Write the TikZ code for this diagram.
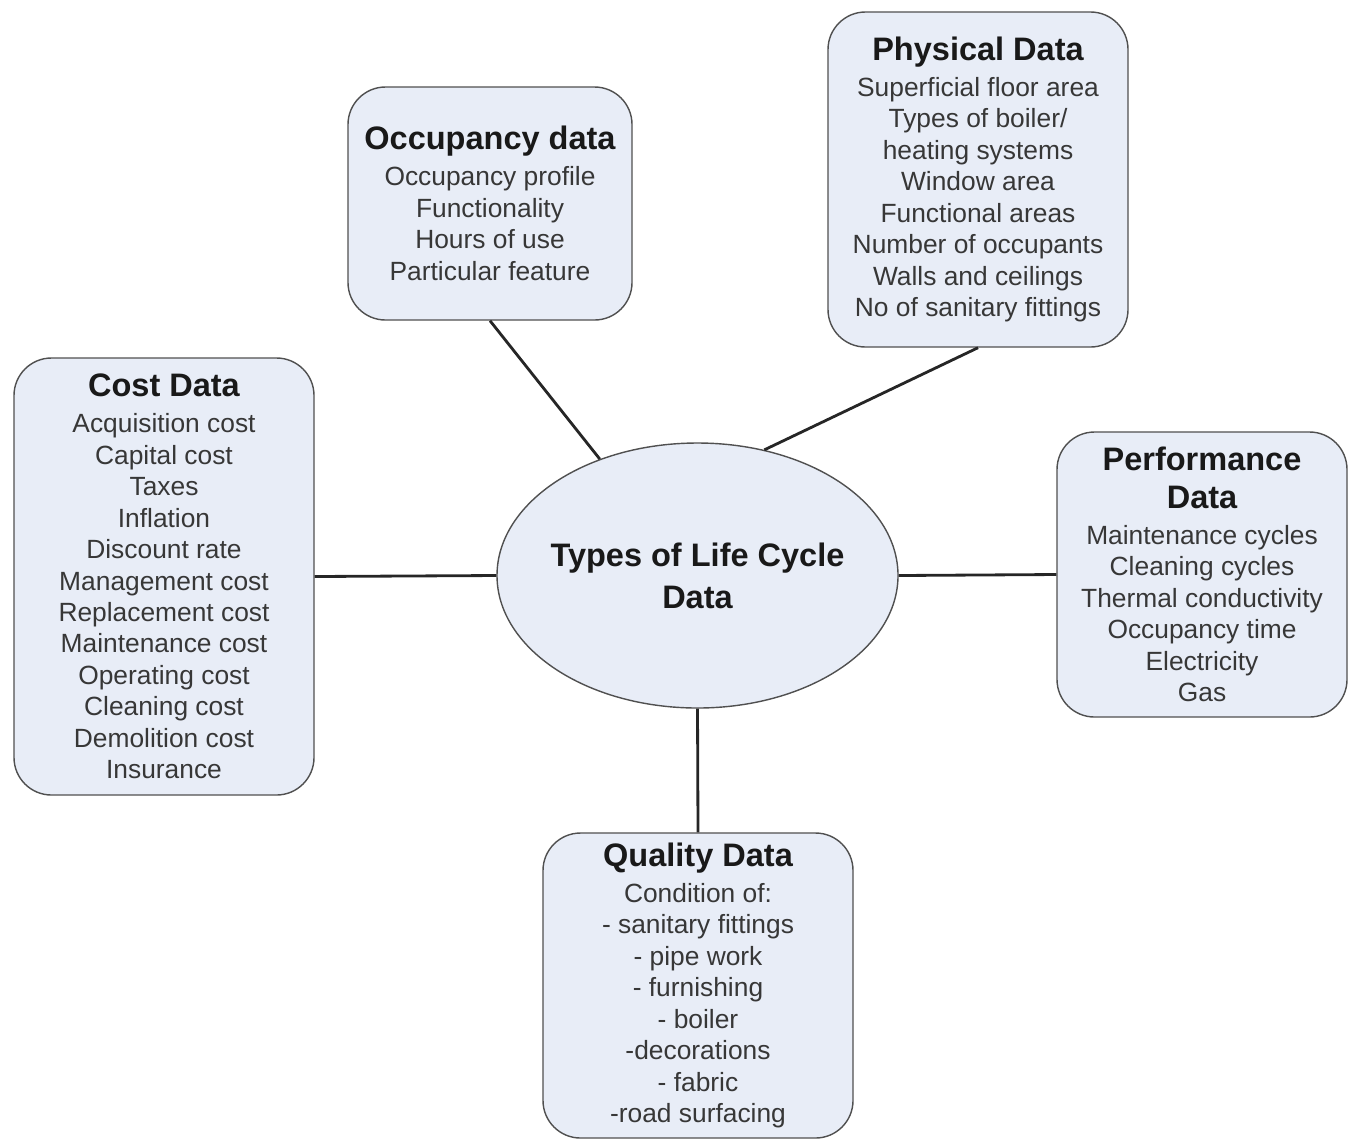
\documentclass[tikz,border=0pt]{standalone}
\usepackage{fontspec}
\setmainfont{Liberation Sans}
\usetikzlibrary{shapes,positioning}

\definecolor{boxfill}{RGB}{232,237,247}
\definecolor{boxline}{RGB}{80,80,80}
\definecolor{bodytext}{RGB}{55,55,55}
\newcommand{\boxtitle}[1]{{\color{black!90}\bfseries\fontsize{18.5}{21}\selectfont #1}}

\begin{document}
\begin{tikzpicture}[
    box/.style={draw=boxline, line width=0.8pt, fill=boxfill, rectangle, rounded corners=0.75cm, inner sep=0pt, align=center, text=bodytext, font=\fontsize{15}{17.9}\selectfont},
    hub/.style={draw=boxline, line width=0.8pt, fill=boxfill, ellipse, minimum width=8.02cm, minimum height=5.3cm},
    hubtext/.style={align=center, text=black!90, font=\bfseries\fontsize{18.5}{24}\selectfont},
    link/.style={line width=1.6pt, black!85}
]
\useasboundingbox (0,0) rectangle (27,-22.82);

% Centre
\node[hub] (hub) at (13.95,-11.51) {};
\node[hubtext] (hubtext) at (hub) {Types of Life Cycle\\Data};

% Data boxes
\node[box, minimum width=5.68cm, minimum height=4.66cm] (occupancy) at (9.8,-4.07)
    {\boxtitle{Occupancy data}\\[2.6pt]Occupancy profile\\Functionality\\Hours of use\\Particular feature};
\node[box, minimum width=6cm, minimum height=6.7cm] (physical) at (19.56,-3.59)
    {\boxtitle{Physical Data}\\[2.6pt]Superficial floor area\\Types of boiler/\\heating systems\\Window area\\Functional areas\\Number of occupants\\Walls and ceilings\\No of sanitary fittings};
\node[box, minimum width=6cm, minimum height=8.74cm] (cost) at (3.28,-11.53)
    {\boxtitle{Cost Data}\\[2.6pt]Acquisition cost\\Capital cost\\Taxes\\Inflation\\Discount rate\\Management cost\\Replacement cost\\Maintenance cost\\Operating cost\\Cleaning cost\\Demolition cost\\Insurance};
\node[box, minimum width=5.8cm, minimum height=5.7cm] (performance) at (24.04,-11.49)
    {\boxtitle{Performance}\\[3.7pt]\boxtitle{Data}\\[2.6pt]Maintenance cycles\\Cleaning cycles\\Thermal conductivity\\Occupancy time\\Electricity\\Gas};
\node[box, minimum width=6.2cm, minimum height=6.1cm] (quality) at (13.96,-19.71)
    {\boxtitle{Quality Data}\\[2.6pt]Condition of:\\- sanitary fittings\\- pipe work\\- furnishing\\- boiler\\-decorations\\- fabric\\-road surfacing};

% Connectors
\draw[link] (occupancy.south) -- (hub.130);
\draw[link] (physical.south) -- (hub.62);
\draw[link] (cost.east) -- (hub.west);
\draw[link] (hub.east) -- (performance.west);
\draw[link] (hub.south) -- (quality.north);

\end{tikzpicture}
\end{document}
